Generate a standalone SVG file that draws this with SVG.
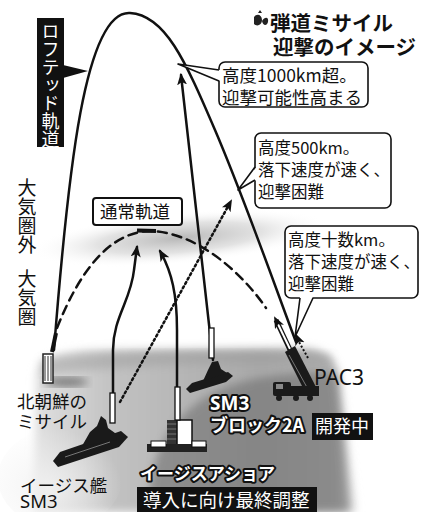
<svg xmlns="http://www.w3.org/2000/svg" width="423" height="512" viewBox="0 0 423 512">
  <defs>
    <style>
      .jp{font-family:"Noto Sans CJK JP","Noto Sans",sans-serif;}
      .lat{font-family:"Noto Sans","Liberation Sans",sans-serif;}
      .lbl{font-size:17.5px;fill:#111;}
      .bub{fill:#fff;stroke:#111;stroke-width:1.6;}
      .tail{fill:none;stroke:#111;stroke-width:1.6;stroke-linejoin:round;}
      .trail{fill:none;stroke:#111;stroke-width:2.5;stroke-linecap:round;}
      .outl{fill:#fff;stroke:#111;stroke-width:4;paint-order:stroke;stroke-linejoin:round;font-weight:bold;}
      .inv{fill:#fff;}
      .dark{fill:#1a1a1a;}
    </style>
    <marker id="ah" markerUnits="userSpaceOnUse" markerWidth="14" markerHeight="12" refX="10" refY="5" orient="auto">
      <path d="M0,0 L12,5 L0,10 L3,5 Z" fill="#111"/>
    </marker>
    <radialGradient id="haze" cx="0.5" cy="0.5" r="0.5">
      <stop offset="0" stop-color="#999" stop-opacity="0.7"/>
      <stop offset="0.55" stop-color="#b8b8b8" stop-opacity="0.4"/>
      <stop offset="1" stop-color="#ffffff" stop-opacity="0"/>
    </radialGradient>
    <linearGradient id="soil" x1="30" y1="0" x2="360" y2="0" gradientUnits="userSpaceOnUse">
      <stop offset="0" stop-color="#e2e2e2"/>
      <stop offset="0.25" stop-color="#c2c2c2"/>
      <stop offset="0.7" stop-color="#a8a8a8"/>
      <stop offset="0.93" stop-color="#b4b4b4"/>
      <stop offset="1" stop-color="#f0f0f0"/>
    </linearGradient>
    <radialGradient id="lowland" cx="0.4" cy="0.6" r="0.6">
      <stop offset="0" stop-color="#f2f2f2" stop-opacity="0.9"/>
      <stop offset="1" stop-color="#f2f2f2" stop-opacity="0"/>
    </radialGradient>
    <filter id="soft" x="-10%" y="-10%" width="120%" height="120%">
      <feGaussianBlur stdDeviation="4"/>
    </filter>
  </defs>

  <rect width="423" height="512" fill="#fff"/>

  <!-- ground and atmosphere shading -->
  <g id="terrain">
    <ellipse cx="180" cy="238" rx="150" ry="26" fill="url(#haze)" transform="rotate(-5 180 238)"/>
    <path d="M36 374 C40 356 62 351 100 350 L300 348 C328 349 336 360 340 380 L356 512 L34 512 Z" fill="url(#soil)" filter="url(#soft)"/>
    <path d="M40 360 C90 350 250 349 330 354 L334 366 C260 362 100 364 42 376 Z" fill="#9a9a9a" opacity="0.45" filter="url(#soft)"/>
    <path d="M150 512 C145 450 180 395 250 380 C290 372 320 370 336 374 L350 512 Z" fill="#6a6a6a" opacity="0.55" filter="url(#soft)"/>
    <ellipse cx="60" cy="478" rx="62" ry="50" fill="url(#lowland)"/>
    <ellipse cx="66" cy="382" rx="22" ry="5" fill="#555" opacity="0.7" filter="url(#soft)"/>
  </g>

  <!-- title -->
  <g id="title" class="jp" font-weight="bold" font-size="20.5" fill="#111">
    <path d="M254 17 C257 13 262 15 262 20 C262 25 257 27 254 24 Z M262 21 C265 16 269 17 268 22 C267 26 263 26 262 21 Z M258 13 L260 10 L262 13 Z" fill="#222"/>
    <text x="270" y="31">弾道ミサイル</text>
    <text x="273" y="55">迎撃のイメージ</text>
  </g>

  <!-- trajectories and interceptor paths -->
  <g id="connectors">
    <!-- lofted trajectory -->
    <path class="trail" d="M54 350 C68 170 85 10 130 13 C165 15 185 60 215 130 S280 300 296 342"/>
    <!-- normal trajectory -->
    <path class="trail" stroke-dasharray="9 6" d="M57 328 C80 270 110 232 150 231 C195 232 240 270 266 308"/>
    <line x1="137" y1="230.5" x2="156" y2="231" stroke="#111" stroke-width="4"/>
    <!-- Aegis ship SM3 -->
    <path class="trail" d="M113 420 L113 350 C113 318 131 300 134 270 L137 247" marker-end="url(#ah)"/>
    <!-- Aegis Ashore -->
    <path class="trail" d="M177 450 L177 330 C177 295 172 272 160 251" marker-end="url(#ah)"/>
    <!-- SM3 Block 2A -->
    <path class="trail" d="M213 360 L181 75" marker-end="url(#ah)"/>
    <!-- dotted interception toward 500 km point -->
    <path class="trail" stroke-dasharray="2 3" stroke-linecap="butt" d="M120 402 L231 201" marker-end="url(#ah)"/>
    <!-- PAC3 interceptors -->
    <path d="M291 352 L276 320" stroke="#111" stroke-width="5"/>
    <path d="M290 349 L277 322" stroke="#fff" stroke-width="2"/>
    <path d="M277 322 L275 318" stroke="#111" stroke-width="1" marker-end="url(#ah)"/>
    <path d="M308 358 L299 342" stroke="#111" stroke-width="2" stroke-dasharray="2 2"/>
    <path d="M299 342 L296 335" stroke="#111" stroke-width="1.5" marker-end="url(#ah)"/>
  </g>

  <!-- lofted trajectory label -->
  <g id="lofted-label">
    <rect x="37" y="18" width="27" height="129" fill="#111"/>
    <path d="M63 65 L88 71 L63 78 Z" fill="#111"/>
    <text class="jp inv" x="50.5" y="22" font-size="18" writing-mode="vertical-rl">ロフテッド軌道</text>
  </g>

  <!-- atmosphere labels -->
  <g id="atmosphere-labels" class="jp" fill="#111">
    <text x="27" y="178" writing-mode="vertical-rl" font-size="19">大気圏外</text>
    <text x="27" y="269" writing-mode="vertical-rl" font-size="19">大気圏</text>
  </g>

  <!-- normal trajectory label -->
  <g id="normal-label">
    <rect x="93" y="198" width="89" height="27" rx="3" fill="#fff" stroke="#111" stroke-width="2"/>
    <text class="jp lbl" x="100" y="218">通常軌道</text>
  </g>

  <!-- callout: above 1000 km -->
  <g id="callout-1000">
    <rect class="bub" x="219" y="62" width="149" height="45" rx="6"/>
    <path d="M220.5 70 L178 64 L220.5 81 Z" fill="#fff"/>
    <polyline class="tail" points="219,70 178,64 219,81"/>
    <text class="jp" font-size="17.5" fill="#111" x="222" y="82">高度1000km超。</text>
    <text class="jp" font-size="17.5" fill="#111" x="222" y="104">迎撃可能性高まる</text>
  </g>

  <!-- callout: 500 km -->
  <g id="callout-500">
    <rect class="bub" x="255" y="133" width="136" height="75" rx="6"/>
    <path d="M256.5 167 L238 190 L256.5 180 Z" fill="#fff"/>
    <polyline class="tail" points="255,167 238,190 255,180"/>
    <text class="jp" font-size="16.5" fill="#111" x="258" y="154">高度500km。</text>
    <text class="jp" font-size="16.5" fill="#111" x="258" y="176">落下速度が速く、</text>
    <text class="jp" font-size="16.5" fill="#111" x="258" y="198">迎撃困難</text>
  </g>

  <!-- callout: tens of km -->
  <g id="callout-low">
    <rect class="bub" x="285" y="226" width="133" height="72" rx="6"/>
    <path d="M300 296.5 L295 337 L313 296.5 Z" fill="#fff"/>
    <polyline class="tail" points="300,298 295,337 313,298"/>
    <text class="jp" font-size="16.5" fill="#111" x="288" y="246">高度十数km。</text>
    <text class="jp" font-size="16.5" fill="#111" x="288" y="268">落下速度が速く、</text>
    <text class="jp" font-size="16.5" fill="#111" x="288" y="290">迎撃困難</text>
  </g>

  <!-- North Korean missile launcher -->
  <g id="nk-missile">
    <rect x="43" y="354" width="10" height="29" fill="#fff" stroke="#222" stroke-width="1.5"/>
    <path d="M45 356 V381 M48 356 V381 M51 356 V381" stroke="#333" stroke-width="1"/>
    <path d="M52 352 L56 333" stroke="#111" stroke-width="4"/>
    <text class="jp lbl" x="17" y="408">北朝鮮の</text>
    <text class="jp lbl" x="17" y="428">ミサイル</text>
  </g>

  <!-- Aegis destroyer -->
  <g id="aegis-ship">
    <rect x="110" y="393" width="5" height="30" fill="#fff" stroke="#111" stroke-width="1.3"/>
    <path class="dark" d="M53 461 L60 452 L121 431 L128 437 L119 447 L58 467 Z"/>
    <path class="dark" d="M82 446 L90 432 L97 426 L101 416 L106 420 L108 428 L115 433 L117 440 Z"/>
    <path d="M65 457 L110 442" stroke="#777" stroke-width="1"/>
    <text class="jp lbl" x="20" y="492">イージス艦</text>
    <text class="lat" font-size="18.5" fill="#111" x="20" y="508">SM3</text>
  </g>

  <!-- SM3 Block 2A ship -->
  <g id="block2a-ship">
    <rect x="209" y="328" width="5" height="30" fill="#fff" stroke="#111" stroke-width="1.3"/>
    <path class="dark" d="M186 389 L192 383 L228 372 L233 376 L226 382 L190 393 Z"/>
    <path class="dark" d="M203 381 L208 370 L212 362 L218 361 L221 369 L227 373 Z"/>
    <text class="lat outl" font-size="19" x="210" y="410">SM3</text>
    <text class="jp outl" font-size="18" x="210" y="432">ブロック2A</text>
    <rect x="312" y="413" width="61" height="27" fill="#111"/>
    <text class="jp inv" font-size="18" x="315" y="433">開発中</text>
  </g>

  <!-- Aegis Ashore -->
  <g id="aegis-ashore">
    <rect x="167" y="420" width="10" height="27" fill="#333"/>
    <path d="M167 424 H177 M167 429 H177 M167 434 H177 M167 439 H177" stroke="#777" stroke-width="1"/>
    <rect x="177" y="420" width="15" height="27" fill="#fff" stroke="#111" stroke-width="1.5"/>
    <rect x="147" y="444" width="60" height="8" fill="#222"/>
    <rect x="151" y="441" width="15" height="6" fill="#fff" stroke="#111" stroke-width="1"/>
    <rect x="192" y="441" width="14" height="6" fill="#fff" stroke="#111" stroke-width="1"/>
    <rect x="175" y="387" width="5" height="33" fill="#fff" stroke="#111" stroke-width="1.3"/>
    <text class="jp outl" font-size="17" x="140" y="480">イージスアショア</text>
    <rect x="137" y="487" width="180" height="25" fill="#111"/>
    <text class="jp inv" font-size="18.5" x="143" y="507">導入に向け最終調整</text>
  </g>

  <!-- PAC3 launcher -->
  <g id="pac3">
    <path class="dark" d="M285 352 L295 346 L317 389 L306 394 Z"/>
    <path d="M289 355 L309 391" stroke="#777" stroke-width="1"/>
    <rect x="273" y="382" width="18" height="14" rx="2" class="dark"/>
    <rect x="276" y="384" width="7" height="5" fill="#888"/>
    <rect x="289" y="386" width="30" height="10" class="dark"/>
    <circle cx="279" cy="398" r="3" class="dark"/>
    <circle cx="296" cy="398" r="3" class="dark"/>
    <circle cx="310" cy="398" r="3" class="dark"/>
    <text class="lat" font-size="21" fill="#111" x="314" y="385">PAC3</text>
  </g>
</svg>
